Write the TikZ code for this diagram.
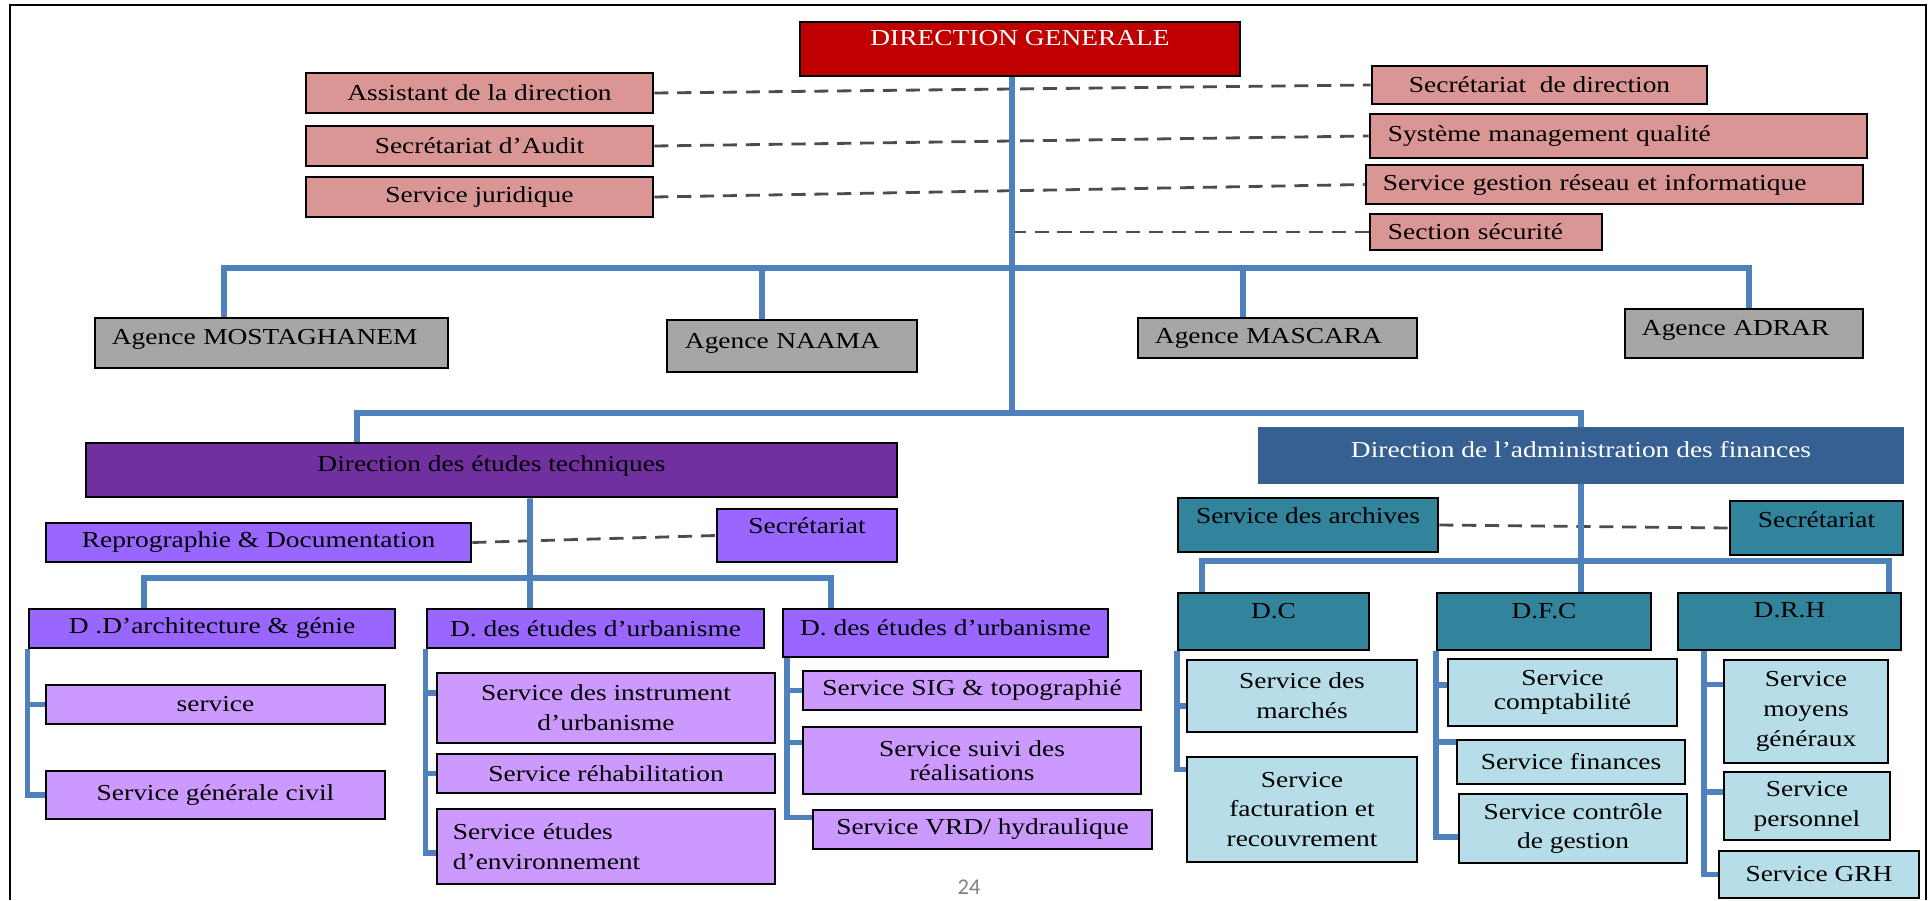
\documentclass[tikz,border=0pt]{standalone}
\usepackage{fontspec}
\setmainfont{Liberation Serif}[FakeStretch=1.2]
\newfontfamily\pagefont{Carlito}
\definecolor{cRed}{HTML}{C00000}
\definecolor{cRose}{HTML}{D99694}
\definecolor{cGrey}{HTML}{A6A6A6}
\definecolor{cPlum}{HTML}{7030A0}
\definecolor{cViolet}{HTML}{9966FF}
\definecolor{cLilac}{HTML}{CC99FF}
\definecolor{cNavy}{HTML}{376092}
\definecolor{cTeal}{HTML}{31849B}
\definecolor{cPale}{HTML}{B7DEE8}
\definecolor{cWire}{HTML}{4F81BD}
\tikzset{
orgbox/.style={draw, line width=0.7pt, inner sep=1pt, font=\fontsize{6.5}{8.5}\selectfont},
sz/.style 2 args={minimum width=#1cm, minimum height=#2cm},
lift/.style={text depth=#1},
toprow/.style={orgbox, fill=cRose},
agence/.style={orgbox, fill=cGrey},
etude/.style={orgbox, fill=cViolet},
etudesvc/.style={orgbox, fill=cLilac},
fin/.style={orgbox, fill=cTeal},
finsvc/.style={orgbox, fill=cPale},
link/.style={draw=cWire, line width=1.6pt},
tie/.style={draw=black!70, line width=0.8pt, dash pattern=on 4pt off 2.5pt}
}
\begin{document}
\begin{tikzpicture}[x=0.01cm, y=-0.01cm]
\useasboundingbox (0,0) rectangle (1928,900);
\draw[line width=0.8pt] (10,900) -- (10,5) -- (1926,5) -- (1926,900);

\node[orgbox, fill=cRed, text=white, sz={4.40}{0.54}, lift=0.23cm] (dg) at (1020,49) {DIRECTION GENERALE};
\node[toprow, sz={3.47}{0.40}] (assist) at (479.5,93) {Assistant de la direction};
\node[toprow, sz={3.47}{0.40}] (audit) at (479.5,146) {Secrétariat d’Audit};
\node[toprow, sz={3.47}{0.40}] (jurid) at (479.5,197) {Service juridique};
\node[toprow, sz={3.35}{0.38}] (secdir) at (1539.5,85) {Secrétariat\ \ de direction};
\node[toprow, sz={4.97}{0.44}, inner xsep=0.18cm, text width=4.61cm, align=left] (smq) at (1618.5,136) {Système management qualité};
\node[toprow, sz={4.97}{0.39}, inner xsep=0.17cm, text width=4.63cm, align=left] (sgri) at (1614.5,184.5) {Service gestion réseau et informatique};
\node[toprow, sz={2.32}{0.36}, inner xsep=0.18cm, text width=1.96cm, align=left] (secu) at (1486,232) {Section sécurité};

\node[agence, sz={3.53}{0.50}, inner xsep=0.17cm, text width=3.19cm, align=left, lift=0.13cm] (mos) at (271.5,343) {Agence MOSTAGHANEM};
\node[agence, sz={2.50}{0.52}, inner xsep=0.18cm, text width=2.14cm, align=left, lift=0.11cm] (naama) at (792,346) {Agence NAAMA};
\node[agence, sz={2.79}{0.40}, inner xsep=0.17cm, text width=2.45cm, align=left] (masc) at (1277.5,338) {Agence MASCARA};
\node[agence, sz={2.38}{0.49}, inner xsep=0.17cm, text width=2.04cm, align=left, lift=0.12cm] (adrar) at (1744,333.5) {Agence ADRAR};

\node[orgbox, fill=cPlum, sz={8.11}{0.54}, lift=0.13cm] (det) at (491.5,470) {Direction des études techniques};
\node[orgbox, draw=cNavy, fill=cNavy, text=white, sz={6.44}{0.55}, lift=0.12cm] (daf) at (1581,455.5) {Direction de l’administration des finances};

\node[etude, sz={4.25}{0.39}] (repro) at (258.5,542.5) {Reprographie \& Documentation};
\node[etude, sz={1.80}{0.53}, lift=0.20cm] (secdt) at (807,535.5) {Secrétariat};
\node[etude, sz={3.66}{0.39}] (darch) at (212,628.5) {D .D’architecture \& génie};
\node[etude, sz={3.37}{0.39}] (deu1) at (595.5,628.5) {D. des études d’urbanisme};
\node[etude, sz={3.25}{0.48}, lift=0.11cm] (deu2) at (945.5,633) {D. des études d’urbanisme};
\node[etudesvc, sz={3.39}{0.39}] (svc) at (215.5,704.5) {service};
\node[etudesvc, sz={3.39}{0.48}] (sgc) at (215.5,795) {Service générale civil};
\node[etudesvc, sz={3.38}{0.70}, align=center] (sinst) at (606,708) {Service des instrument\\d’urbanisme};
\node[etudesvc, sz={3.38}{0.39}] (srehab) at (606,773.5) {Service réhabilitation};
\node[etudesvc, sz={3.38}{0.75}, inner xsep=0.16cm, text width=3.06cm, align=left] (senv) at (606,846.5) {Service études\\d’environnement};
\node[etudesvc, sz={3.38}{0.39}] (ssig) at (972,690.5) {Service SIG \& topographié};
\node[etudesvc, sz={3.38}{0.67}, align=center, font=\fontsize{6.5}{7}\selectfont] (ssuivi) at (972,760.5) {Service suivi des\\réalisations};
\node[etudesvc, sz={3.39}{0.39}] (svrd) at (982.5,829.5) {Service VRD/ hydraulique};

\node[fin, sz={2.60}{0.54}, lift=0.19cm] (arch) at (1308,525) {Service des archives};
\node[fin, sz={1.73}{0.54}, lift=0.17cm] (secf) at (1816.5,528) {Secrétariat};
\node[fin, sz={1.91}{0.57}, lift=0.22cm] (dc) at (1273.5,621.5) {D.C};
\node[fin, sz={2.14}{0.57}, lift=0.22cm] (dfc) at (1544,621.5) {D.F.C};
\node[fin, sz={2.23}{0.57}, lift=0.22cm] (drh) at (1789.5,621.5) {D.R.H};
\node[finsvc, sz={2.30}{0.72}, align=center] (smarch) at (1302,696) {Service des\\marchés};
\node[finsvc, sz={2.30}{1.05}, align=center] (sfact) at (1302,809.5) {Service\\facturation et\\recouvrement};
\node[finsvc, sz={2.29}{0.67}, align=center, font=\fontsize{6.5}{7}\selectfont] (scompta) at (1562.5,692.5) {Service\\comptabilité};
\node[finsvc, sz={2.28}{0.44}] (sfin) at (1571,762) {Service finances};
\node[finsvc, sz={2.28}{0.69}, align=center] (sctrl) at (1573,828.5) {Service contrôle\\de gestion};
\node[finsvc, sz={1.64}{1.03}, align=center] (smoy) at (1806,711.5) {Service\\moyens\\généraux};
\node[finsvc, sz={1.66}{0.68}, align=center] (spers) at (1807,806) {Service\\personnel};
\node[finsvc, sz={2.00}{0.47}] (sgrh) at (1819,874.5) {Service GRH};

\node[font=\pagefont\fontsize{6.4}{7}\selectfont, text=black!50] (page) at (969,887) {24};

\coordinate (hub1) at (1012,268);
\coordinate (hub2) at (1012,413);
\coordinate (hub3) at (530,578);
\coordinate (hub4) at (1581,561);

\draw[tie] (assist.east) -- (secdir.west);
\draw[tie] (audit.east) -- (smq.west);
\draw[tie] (jurid.east) -- (sgri.west);
\draw[tie] (secu.west) -- (secu.west -| hub1);
\draw[tie] (repro.east) -- (secdt.west);
\draw[tie] (arch.east) -- (secf.west);

\draw[link] ([xshift=-0.08cm]dg.south) -- (hub2);
\draw[link] ([xshift=-0.475cm]mos.north) |- (hub1) -| ([xshift=0.05cm]adrar.north);
\draw[link] ([xshift=-0.30cm]naama.north) |- (hub1);
\draw[link] ([xshift=-0.345cm]masc.north) |- (hub1);
\draw[link] ([xshift=-1.345cm]det.north) |- (hub2) -| (daf.north);

\draw[link] ([xshift=0.385cm]det.south) -- (hub3);
\draw[link] ([xshift=-0.68cm]darch.north) |- (hub3) -| ([xshift=-1.145cm]deu2.north);
\draw[link] (hub3) -- ([xshift=-0.655cm]deu1.north);
\draw[link] (darch.south west) |- (sgc.west);
\draw[link] (svc.west) -| (darch.south west);
\draw[link] (deu1.south west) |- ([yshift=-0.065cm]senv.west);
\draw[link] ([yshift=0.15cm]sinst.west) -| (deu1.south west);
\draw[link] (srehab.west) -| (deu1.south west);
\draw[link] ([xshift=0.05cm]deu2.south west) |- ([yshift=0.12cm]svrd.west);
\draw[link] (ssig.west) -| ([xshift=0.05cm]deu2.south west);
\draw[link] ([yshift=0.18cm]ssuivi.west) -| ([xshift=0.05cm]deu2.south west);

\draw[link] (daf.south) -- (hub4);
\draw[link] ([xshift=-0.715cm]dc.north) |- (hub4) -| ([xshift=0.995cm]drh.north);
\draw[link] (hub4) -- ([xshift=0.37cm]dfc.north);
\draw[link] (dc.south west) |- ([yshift=0.40cm]sfact.west);
\draw[link] ([yshift=-0.10cm]smarch.west) -| (dc.south west);
\draw[link] (dfc.south west) |- ([yshift=-0.085cm]sctrl.west);
\draw[link] ([yshift=0.075cm]scompta.west) -| (dfc.south west);
\draw[link] ([yshift=0.20cm]sfin.west) -| (dfc.south west);
\draw[link] ([xshift=0.27cm]drh.south west) |- (sgrh.west);
\draw[link] ([yshift=0.27cm]smoy.west) -| ([xshift=0.27cm]drh.south west);
\draw[link] ([yshift=0.14cm]spers.west) -| ([xshift=0.27cm]drh.south west);
\end{tikzpicture}
\end{document}
